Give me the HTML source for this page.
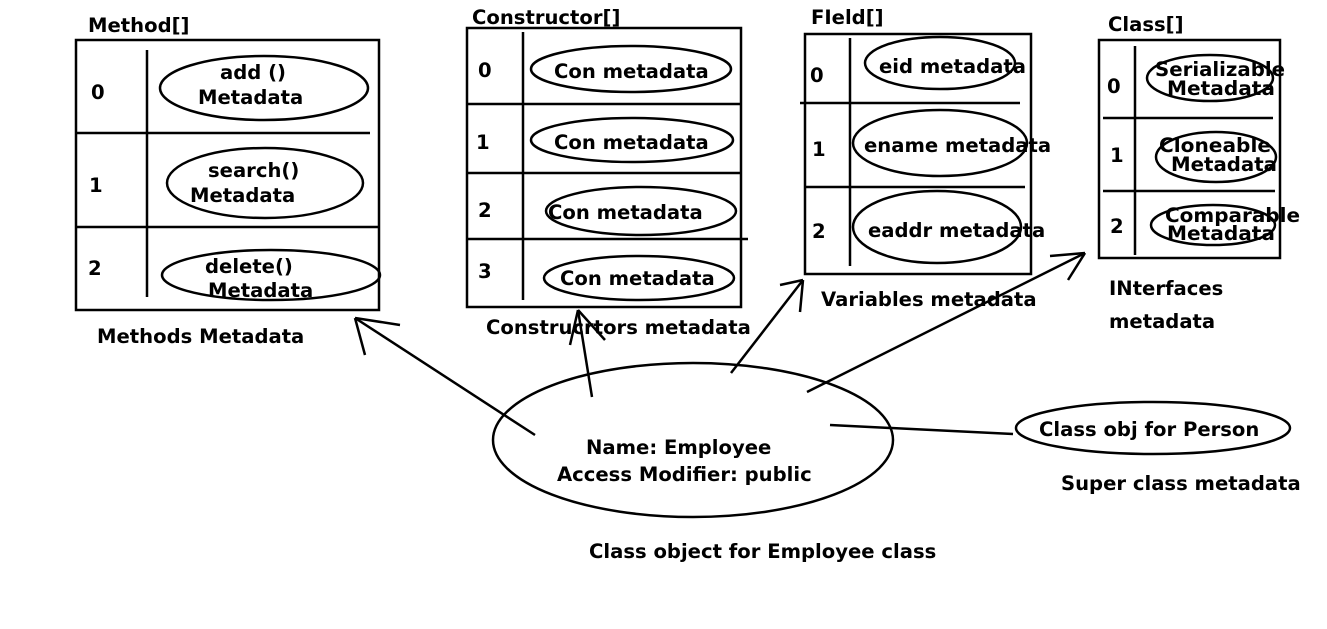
<!DOCTYPE html>
<html><head><meta charset="utf-8"><style>
html,body{margin:0;padding:0;background:#fff;width:1327px;height:629px;overflow:hidden}
text{font-family:"DejaVu Sans","Liberation Sans",sans-serif;font-weight:bold;font-size:19.6px;fill:#000}
</style></head><body>
<svg width="1327" height="629" viewBox="0 0 1327 629" xmlns="http://www.w3.org/2000/svg" fill="none" stroke="#000" stroke-width="2.5">
<rect x="76" y="40" width="303" height="270"/>
<line x1="147" y1="50" x2="147" y2="297"/>
<line x1="76" y1="133" x2="370" y2="133"/>
<line x1="76" y1="227" x2="379" y2="227"/>
<ellipse cx="264" cy="88" rx="104" ry="32"/>
<ellipse cx="265" cy="183" rx="98" ry="35"/>
<ellipse cx="271" cy="275" rx="109" ry="25"/>
<rect x="467" y="28" width="274" height="279"/>
<line x1="523" y1="32" x2="523" y2="300"/>
<line x1="467" y1="104" x2="741" y2="104"/>
<line x1="467" y1="173" x2="741" y2="173"/>
<line x1="467" y1="239" x2="748" y2="239"/>
<ellipse cx="631" cy="69" rx="100" ry="23"/>
<ellipse cx="632" cy="140" rx="101" ry="22"/>
<ellipse cx="641" cy="211" rx="95" ry="24"/>
<ellipse cx="639" cy="278" rx="95" ry="22"/>
<rect x="805" y="34" width="226" height="240"/>
<line x1="850" y1="38" x2="850" y2="266"/>
<line x1="800" y1="103" x2="1020" y2="103"/>
<line x1="805" y1="187" x2="1025" y2="187"/>
<ellipse cx="940" cy="63" rx="75" ry="26"/>
<ellipse cx="940" cy="143" rx="87" ry="33"/>
<ellipse cx="937" cy="227" rx="84" ry="36"/>
<rect x="1099" y="40" width="181" height="218"/>
<line x1="1135" y1="46" x2="1135" y2="255"/>
<line x1="1103" y1="118" x2="1273" y2="118"/>
<line x1="1103" y1="191" x2="1275" y2="191"/>
<ellipse cx="1210" cy="78" rx="63" ry="23"/>
<ellipse cx="1216" cy="157" rx="60" ry="25"/>
<ellipse cx="1213" cy="225" rx="62" ry="20"/>
<ellipse cx="693" cy="440" rx="200" ry="77"/>
<ellipse cx="1153" cy="428" rx="137" ry="26"/>
<line x1="535" y1="435" x2="355" y2="318"/>
<line x1="355" y1="318" x2="400" y2="325"/>
<line x1="355" y1="318" x2="365" y2="355"/>
<line x1="592" y1="397" x2="578" y2="310"/>
<line x1="578" y1="310" x2="570" y2="345"/>
<line x1="578" y1="310" x2="605" y2="340"/>
<line x1="731" y1="373" x2="803" y2="280"/>
<line x1="803" y1="280" x2="780" y2="285"/>
<line x1="803" y1="280" x2="800" y2="312"/>
<line x1="807" y1="392" x2="1085" y2="253"/>
<line x1="1085" y1="253" x2="1050" y2="256"/>
<line x1="1085" y1="253" x2="1068" y2="280"/>
<line x1="830" y1="425" x2="1013" y2="434"/>
<g stroke="none">
<text x="88" y="32">Method[]</text>
<text x="91" y="99">0</text>
<text x="89" y="192">1</text>
<text x="88" y="275">2</text>
<text x="220" y="79">add ()</text>
<text x="198" y="104">Metadata</text>
<text x="208" y="177">search()</text>
<text x="190" y="202">Metadata</text>
<text x="205" y="273">delete()</text>
<text x="208" y="297">Metadata</text>
<text x="97" y="343">Methods Metadata</text>
<text x="472" y="24">Constructor[]</text>
<text x="478" y="77">0</text>
<text x="476" y="149">1</text>
<text x="478" y="217">2</text>
<text x="478" y="278">3</text>
<text x="554" y="78">Con metadata</text>
<text x="554" y="149">Con metadata</text>
<text x="548" y="219">Con metadata</text>
<text x="560" y="285">Con metadata</text>
<text x="486" y="334">Construcrtors metadata</text>
<text x="811" y="24">FIeld[]</text>
<text x="810" y="82">0</text>
<text x="812" y="156">1</text>
<text x="812" y="238">2</text>
<text x="879" y="73">eid metadata</text>
<text x="864" y="152">ename metadata</text>
<text x="868" y="237">eaddr metadata</text>
<text x="821" y="306">Variables metadata</text>
<text x="1108" y="31">Class[]</text>
<text x="1107" y="93">0</text>
<text x="1110" y="162">1</text>
<text x="1110" y="233">2</text>
<text x="1155" y="76" textLength="130" lengthAdjust="spacingAndGlyphs">Serializable</text>
<text x="1167" y="95" textLength="108" lengthAdjust="spacingAndGlyphs">Metadata</text>
<text x="1159" y="152" textLength="112" lengthAdjust="spacingAndGlyphs">Cloneable</text>
<text x="1171" y="171" textLength="106" lengthAdjust="spacingAndGlyphs">Metadata</text>
<text x="1165" y="222" textLength="135" lengthAdjust="spacingAndGlyphs">Comparable</text>
<text x="1167" y="240" textLength="108" lengthAdjust="spacingAndGlyphs">Metadata</text>
<text x="1109" y="295">INterfaces</text>
<text x="1109" y="328">metadata</text>
<text x="586" y="454">Name: Employee</text>
<text x="557" y="481">Access Modifier: public</text>
<text x="1039" y="436">Class obj for Person</text>
<text x="1061" y="490">Super class metadata</text>
<text x="589" y="558">Class object for Employee class</text>
</g>
</svg>
</body></html>
